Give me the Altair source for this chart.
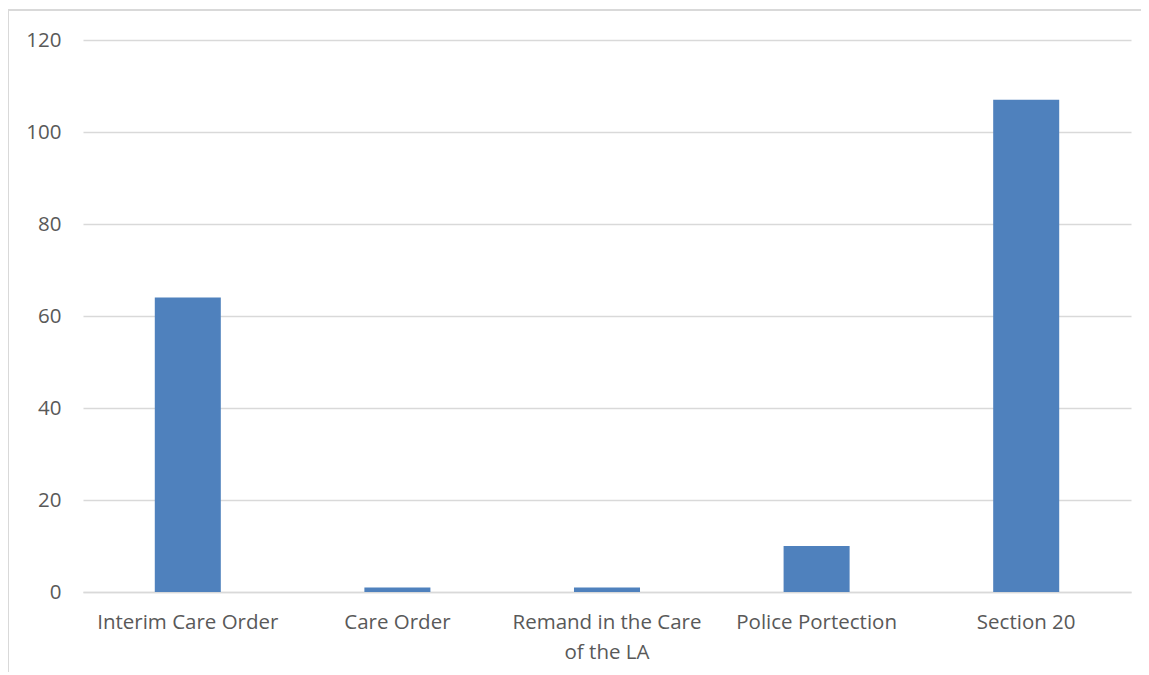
import altair as alt
import pandas as pd

categories = ["Interim Care Order", "Care Order", "Remand in the Care of the LA",
              "Police Portection", "Section 20"]
values = [64, 1, 1, 10, 107]
y_ticks = [0, 20, 40, 60, 80, 100, 120]

df = pd.DataFrame({"category": categories, "value": values})

W, H = 1048, 552
FONT = "Open Sans"
TXT = "#595959"
GRID = "#d9d9d9"

bars = alt.Chart(df).mark_bar(color="#4f81bd").encode(
    x=alt.X("category:N", sort=categories, title=None,
            scale=alt.Scale(paddingInner=0.685, paddingOuter=0.3425),
            axis=alt.Axis(labelAngle=0, labelColor=TXT, labelFont=FONT, labelFontSize=20.5,
                          labelPadding=20, labelLineHeight=30, ticks=False,
                          domainColor=GRID, domainWidth=1.5, labelLimit=300,
                          labelExpr="datum.label == 'Remand in the Care of the LA' ? ['Remand in the Care', 'of the LA'] : datum.label")),
    y=alt.Y("value:Q", title=None,
            scale=alt.Scale(domain=[0, 120], nice=False),
            axis=alt.Axis(values=y_ticks, labelColor=TXT, labelFont=FONT, labelFontSize=20.5,
                          labelPadding=22, ticks=False, domain=False,
                          gridColor=GRID, gridWidth=1.5)),
)

border_src = alt.Data(values=[{}])
top_line = alt.Chart(border_src).mark_rule(color=GRID, strokeWidth=2, clip=False).encode(
    x=alt.value(-75), x2=alt.value(W + 30), y=alt.value(-30))
left_line = alt.Chart(border_src).mark_rule(color=GRID, strokeWidth=2, clip=False).encode(
    x=alt.value(-75), y=alt.value(-30), y2=alt.value(H + 90))

chart = alt.layer(bars, top_line, left_line).properties(
    width=W, height=H,
    background="white",
    autosize=alt.AutoSizeParams(type="none"),
    padding={"left": 75, "top": 32, "right": 10, "bottom": 80},
).configure_view(strokeWidth=0, stroke="transparent")

chart.save("out.html", embed_options={"renderer": "svg", "actions": False})
